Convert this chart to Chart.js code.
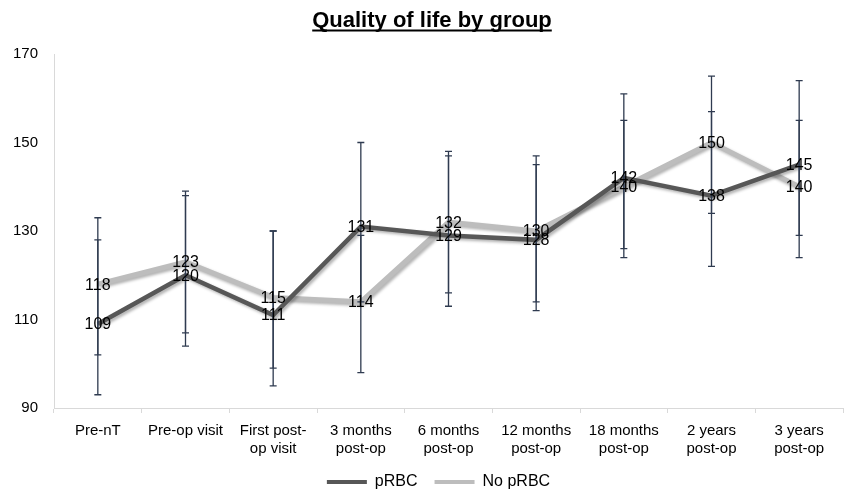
<!DOCTYPE html>
<html>
<head>
<meta charset="utf-8">
<script src="https://cdn.jsdelivr.net/npm/chart.js@4/dist/chart.umd.min.js"></script>
<style>
  html, body { margin: 0; padding: 0; background: #ffffff; }
  #wrap { width: 844px; height: 492px; position: relative; }
</style>
</head>
<body>
<div id="wrap"><canvas id="c" width="844" height="492"></canvas></div>
<script>
const chartTitle = "Quality of life by group";
const categories = [
  "Pre-nT",
  "Pre-op visit",
  ["First post-", "op visit"],
  ["3 months", "post-op"],
  ["6 months", "post-op"],
  ["12 months", "post-op"],
  ["18 months", "post-op"],
  ["2 years", "post-op"],
  ["3 years", "post-op"]
];
const seriesNames = ["pRBC", "No pRBC"];
const pRBC = [109, 120, 111, 131, 129, 128, 142, 138, 145];
const noPRBC = [118, 123, 115, 114, 132, 130, 140, 150, 140];
const pRBCHigh = [128, 139, 130, 150, 148, 147, 161, 157, 164];
const pRBCLow = [93, 104, 95, 114, 113, 112, 126, 122, 129];
const noPRBCHigh = [133, 138, 130, 129, 147, 145, 155, 165, 155];
const noPRBCLow = [102, 107, 99, 98, 116, 114, 124, 134, 124];
const yTicks = [90, 110, 130, 150, 170];

const FONT = "'Liberation Sans', Arial, sans-serif";

const shadowPlugin = {
  id: 'lineShadow',
  beforeDatasetDraw(chart) {
    const ctx = chart.ctx;
    ctx.save();
    ctx.shadowColor = 'rgba(0,0,0,0.30)';
    ctx.shadowBlur = 3;
    ctx.shadowOffsetX = 2;
    ctx.shadowOffsetY = 2;
  },
  afterDatasetDraw(chart) {
    chart.ctx.restore();
  }
};

const legendShift = {
  id: 'legendShift',
  afterLayout(chart) {
    if (chart.legend) {
      chart.legend.left += 17;
      chart.legend.right += 17;
    }
  }
};

const errorBarPlugin = {
  id: 'errorBars',
  afterDatasetsDraw(chart) {
    const ctx = chart.ctx;
    const xs = chart.scales.x, ys = chart.scales.y;
    ctx.save();
    ctx.strokeStyle = '#2f3b50';
    ctx.lineWidth = 1.3;
    chart.data.datasets.forEach(ds => {
      ds.errHigh.forEach((hi, i) => {
        const lo = ds.errLow[i];
        const x = xs.getPixelForValue(i);
        const yh = ys.getPixelForValue(hi);
        const yl = ys.getPixelForValue(lo);
        ctx.beginPath();
        ctx.moveTo(x, yh); ctx.lineTo(x, yl);
        ctx.moveTo(x - 3.5, yh); ctx.lineTo(x + 3.5, yh);
        ctx.moveTo(x - 3.5, yl); ctx.lineTo(x + 3.5, yl);
        ctx.stroke();
      });
    });
    ctx.restore();
  }
};

const labelPlugin = {
  id: 'valueLabels',
  afterDraw(chart) {
    const ctx = chart.ctx;
    ctx.save();
    ctx.font = "16px " + FONT;
    ctx.fillStyle = '#000000';
    ctx.textAlign = 'center';
    ctx.textBaseline = 'middle';
    chart.data.datasets.forEach((ds, di) => {
      const meta = chart.getDatasetMeta(di);
      meta.data.forEach((pt, i) => {
        ctx.fillText(String(ds.data[i]), pt.x, pt.y + 1);
      });
    });
    // Title with underline
    ctx.font = "bold 22px " + FONT;
    ctx.textBaseline = 'alphabetic';
    const tx = 432, ty = 26.5;
    ctx.fillText(chartTitle, tx, ty);
    const w = ctx.measureText(chartTitle).width;
    ctx.fillRect(tx - w / 2, ty + 3, w, 2);
    ctx.restore();
  }
};

new Chart(document.getElementById('c'), {
  type: 'line',
  data: {
    labels: categories,
    datasets: [
      {
        label: seriesNames[0],
        data: pRBC,
        errHigh: pRBCHigh,
        errLow: pRBCLow,
        borderColor: '#575757',
        backgroundColor: '#575757',
        borderWidth: 4.5,
        pointRadius: 0,
        tension: 0
      },
      {
        label: seriesNames[1],
        data: noPRBC,
        errHigh: noPRBCHigh,
        errLow: noPRBCLow,
        borderColor: '#bdbdbd',
        backgroundColor: '#bdbdbd',
        borderWidth: 5,
        pointRadius: 0,
        tension: 0
      }
    ]
  },
  options: {
    responsive: false,
    animation: false,
    devicePixelRatio: 1,
    layout: { padding: { top: 54, left: 0, right: 1, bottom: -8 } },
    plugins: {
      title: { display: false },
      tooltip: { enabled: false },
      legend: {
        display: true,
        position: 'bottom',
        labels: {
          font: { family: FONT, size: 16 },
          color: '#000000',
          boxWidth: 40,
          boxHeight: 4,
          padding: 17,
          generateLabels: (chart) =>
            Chart.defaults.plugins.legend.labels.generateLabels(chart).map(l => ({
              ...l, fillStyle: l.strokeStyle, lineWidth: 0
            }))
        }
      }
    },
    scales: {
      x: {
        type: 'category',
        offset: true,
        grid: {
          display: true,
          drawOnChartArea: false,
          drawTicks: true,
          tickLength: 5,
          color: '#d9d9d9',
          offset: true
        },
        border: { display: true, color: '#d9d9d9', width: 1 },
        ticks: {
          font: { family: FONT, size: 15, lineHeight: 1.2 },
          color: '#000000',
          padding: 9,
          maxRotation: 0,
          minRotation: 0,
          autoSkip: false
        },
        afterFit(scale) { scale.height = 49; }
      },
      y: {
        min: 90,
        max: 170,
        afterBuildTicks(scale) { scale.ticks = yTicks.map(v => ({ value: v })); },
        grid: { display: false, drawTicks: false },
        border: { display: true, color: '#d9d9d9', width: 1 },
        ticks: {
          font: { family: FONT, size: 15 },
          color: '#000000',
          padding: 16
        },
        afterFit(scale) { scale.width = 54; }
      }
    }
  },
  plugins: [shadowPlugin, legendShift, errorBarPlugin, labelPlugin]
});
</script>
</body>
</html>
